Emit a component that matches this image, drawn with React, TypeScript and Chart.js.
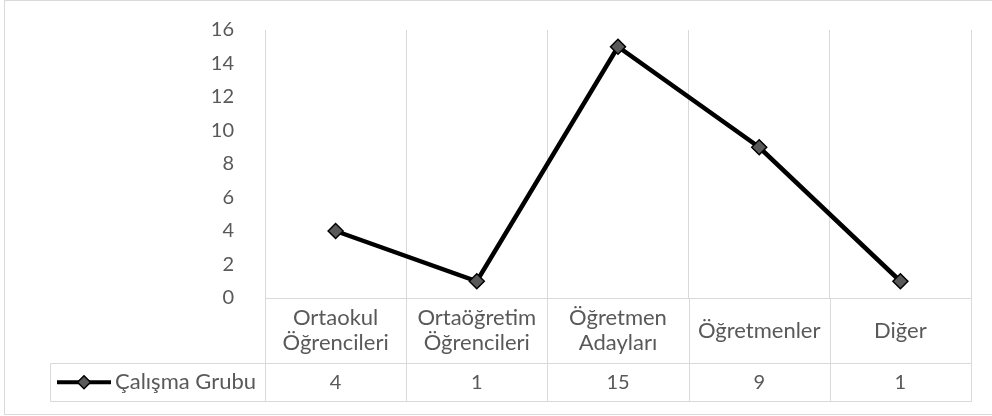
import React, { useEffect, useRef } from 'react';
import { Chart, registerables } from 'chart.js';

Chart.register(...registerables);

const categories: string[][] = [
  ['Ortaokul', 'Öğrencileri'],
  ['Ortaöğretim', 'Öğrencileri'],
  ['Öğretmen', 'Adayları'],
  ['Öğretmenler'],
  ['Diğer'],
];
const seriesName = 'Çalışma Grubu';
const values = [4, 1, 15, 9, 1];
const yMin = 0;
const yMax = 16;
const yStep = 2;

const FONT_FAMILY = 'Lato, "Open Sans", sans-serif';
const TEXT_SIZE = 22;
const NUM_SIZE = 20;
const TEXT_COLOR = '#595959';
const GRID_COLOR = '#d9d9d9';

const tablePlugin = {
  id: 'dataTable',
  afterDraw(chart: any) {
    const { ctx, chartArea } = chart;
    const left = chartArea.left;
    const right = chartArea.right;
    const top = chartArea.bottom;
    const n = categories.length;
    const w = (right - left) / n;
    const catBottom = top + 65;
    const valBottom = top + 103.5;
    const legendLeft = 50;
    const px = (v: number) => Math.round(v) + 0.5;

    ctx.save();
    ctx.strokeStyle = GRID_COLOR;
    ctx.lineWidth = 1;
    ctx.beginPath();
    for (let i = 0; i <= n; i++) {
      const x = px(left + i * w);
      ctx.moveTo(x, top);
      ctx.lineTo(x, valBottom);
    }
    ctx.moveTo(px(legendLeft), px(catBottom));
    ctx.lineTo(px(legendLeft), valBottom);
    ctx.moveTo(px(legendLeft), px(catBottom));
    ctx.lineTo(px(right), px(catBottom));
    ctx.moveTo(px(legendLeft), valBottom);
    ctx.lineTo(px(right), valBottom);
    ctx.stroke();

    ctx.strokeRect(4.5, 0.5, 1000, 414);

    ctx.fillStyle = TEXT_COLOR;
    ctx.font = `${TEXT_SIZE}px ${FONT_FAMILY}`;
    ctx.textAlign = 'center';
    ctx.textBaseline = 'middle';
    const catMid = (top + catBottom) / 2;
    const lineH = 25;
    categories.forEach((lines, i) => {
      const cx = chart.scales.x.getPixelForValue(i);
      lines.forEach((t, j) => {
        const y = catMid + (j - (lines.length - 1) / 2) * lineH;
        ctx.fillText(t, cx, y);
      });
    });
    const valMid = (catBottom + valBottom) / 2;
    ctx.font = `${NUM_SIZE}px ${FONT_FAMILY}`;
    values.forEach((v, i) => {
      const cx = chart.scales.x.getPixelForValue(i);
      ctx.fillText(String(v), cx, valMid);
    });

    ctx.strokeStyle = '#000';
    ctx.lineWidth = 4;
    ctx.beginPath();
    ctx.moveTo(57, valMid);
    ctx.lineTo(111, valMid);
    ctx.stroke();
    const dx = 84;
    const r = 6.5;
    ctx.beginPath();
    ctx.moveTo(dx, valMid - r);
    ctx.lineTo(dx + r, valMid);
    ctx.lineTo(dx, valMid + r);
    ctx.lineTo(dx - r, valMid);
    ctx.closePath();
    ctx.fillStyle = '#595959';
    ctx.fill();
    ctx.lineWidth = 1.5;
    ctx.strokeStyle = '#000';
    ctx.stroke();

    ctx.fillStyle = TEXT_COLOR;
    ctx.font = `${TEXT_SIZE}px ${FONT_FAMILY}`;
    ctx.textAlign = 'left';
    ctx.fillText(seriesName, 115, valMid);
    ctx.restore();
  },
};

export default function App() {
  const ref = useRef<HTMLCanvasElement | null>(null);
  useEffect(() => {
    document.body.style.margin = '0';
    if (!ref.current) return;
    const chart = new Chart(ref.current, {
      type: 'line',
      data: {
        labels: categories.map((c) => c.join(' ')),
        datasets: [
          {
            label: seriesName,
            data: values,
            borderColor: '#000000',
            borderWidth: 4.5,
            pointStyle: 'rectRot',
            pointRadius: 7.5,
            pointBackgroundColor: '#595959',
            pointBorderColor: '#000000',
            pointBorderWidth: 1.5,
            tension: 0,
          },
        ],
      },
      options: {
        responsive: false,
        animation: false,
        layout: { padding: { left: 0, right: 21, top: 30, bottom: 118 } },
        plugins: {
          legend: { display: false },
          tooltip: { enabled: false },
        },
        scales: {
          x: {
            type: 'category',
            offset: true,
            grid: { offset: true, color: GRID_COLOR, drawTicks: false, lineWidth: 1 },
            border: { color: GRID_COLOR, width: 1 },
            ticks: { display: false },
          },
          y: {
            min: yMin,
            max: yMax,
            grid: { display: false },
            border: { display: false },
            ticks: {
              stepSize: yStep,
              padding: 23,
              color: TEXT_COLOR,
              font: { family: FONT_FAMILY, size: NUM_SIZE },
            },
            afterFit: (s: any) => {
              s.width = 265;
              s.paddingTop = 0;
              s.paddingBottom = 0;
            },
          },
        },
      },
      plugins: [tablePlugin],
    });
    return () => chart.destroy();
  }, []);
  return <canvas ref={ref} width={992} height={416} style={{ display: 'block' }} />;
}
